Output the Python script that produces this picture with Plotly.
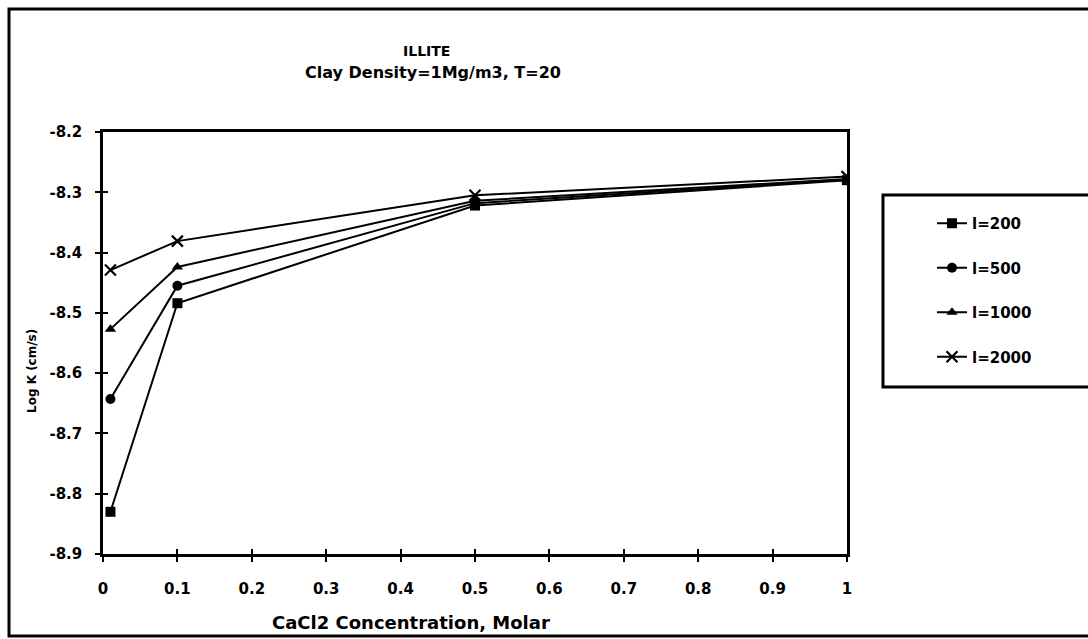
import plotly.graph_objects as go

# ---- data ----
concentration = [0.01, 0.1, 0.5, 1.0]
series_names = ["I=200", "I=500", "I=1000", "I=2000"]
legend_labels = ["l=200", "l=500", "l=1000", "l=2000"]
logk_200 = [-8.830, -8.484, -8.322, -8.280]
logk_500 = [-8.643, -8.455, -8.318, -8.279]
logk_1000 = [-8.527, -8.424, -8.314, -8.278]
logk_2000 = [-8.429, -8.381, -8.305, -8.274]
x_tickvals = [0, 0.1, 0.2, 0.3, 0.4, 0.5, 0.6, 0.7, 0.8, 0.9, 1.0]
x_ticktext = ["0", "0.1", "0.2", "0.3", "0.4", "0.5", "0.6", "0.7", "0.8", "0.9", "1"]
y_tickvals = [-8.9, -8.8, -8.7, -8.6, -8.5, -8.4, -8.3, -8.2]
y_ticktext = ["-8.9", "-8.8", "-8.7", "-8.6", "-8.5", "-8.4", "-8.3", "-8.2"]

title_line1 = "ILLITE"
title_line2 = "Clay Density=1Mg/m3, T=20"
x_title = "CaCl2 Concentration, Molar"
y_title = "Log K (cm/s)"

# ---- geometry (pixels) ----
W, H = 1088, 639
PL, PR, PT, PB = 103, 847, 132, 554

def px(xp):
    return (xp - PL) / (PR - PL)

def py(yp):
    return (PB - yp) / (PB - PT)

FONT = "DejaVu Sans"
fbold = dict(family=FONT, color="black", weight="bold")

symbols = ["square", "circle", "triangle-up", "x-thin-open"]
all_values = [logk_200, logk_500, logk_1000, logk_2000]

fig = go.Figure()
for name, lab, vals, sym in zip(series_names, legend_labels, all_values, symbols):
    marker = dict(symbol=sym, size=10, color="black")
    if sym == "x-thin-open":
        marker = dict(symbol=sym, size=11, color="black", line=dict(width=2.2, color="black"))
    fig.add_trace(go.Scatter(
        x=concentration, y=vals, mode="lines+markers", name=lab,
        legendgroup=name,
        line=dict(color="black", width=2),
        marker=marker,
    ))

axis_common = dict(
    showgrid=False, zeroline=False, showline=True, linecolor="black",
    linewidth=2.5, mirror=True, ticks="outside", ticklen=5, tickwidth=1.5,
    tickcolor="black", tickfont=dict(size=15, **fbold),
)

fig.update_layout(
    width=W, height=H,
    margin=dict(l=PL, r=W - PR, t=PT, b=H - PB),
    paper_bgcolor="white", plot_bgcolor="white",
    xaxis=dict(range=[0, 1], tickvals=x_tickvals, ticktext=x_ticktext,
               ticklabelstandoff=14, **axis_common),
    yaxis=dict(range=[-8.9, -8.2], tickvals=y_tickvals, ticktext=y_ticktext,
               ticklabelstandoff=10, **axis_common),
    xaxis2=dict(overlaying="x", anchor="y", side="bottom", range=[0, 1],
                tickvals=x_tickvals, showticklabels=False, ticks="inside",
                ticklen=5, tickwidth=1.5, tickcolor="black", showgrid=False,
                zeroline=False, showline=False),
    yaxis2=dict(overlaying="y", anchor="x", side="left", range=[-8.9, -8.2],
                tickvals=y_tickvals, showticklabels=False, ticks="inside",
                ticklen=5, tickwidth=1.5, tickcolor="black", showgrid=False,
                zeroline=False, showline=False),
    showlegend=True,
    legend=dict(
        xref="container", yref="container",
        x=932 / W, y=1 - 207 / H, xanchor="left", yanchor="top",
        bgcolor="rgba(0,0,0,0)", borderwidth=0,
        font=dict(size=15, **fbold),
        tracegroupgap=22, itemwidth=30,
    ),
)

# dummy trace so overlay axes render
fig.add_trace(go.Scatter(x=[None], y=[None], xaxis="x2", yaxis="y2",
                         showlegend=False, hoverinfo="skip"))

# outer frame
fig.add_shape(type="rect", xref="paper", yref="paper",
              x0=px(9), x1=px(1110), y0=py(636), y1=py(9),
              line=dict(color="black", width=3), layer="below")
# legend frame
fig.add_shape(type="rect", xref="paper", yref="paper",
              x0=px(883), x1=px(1110), y0=py(387), y1=py(195),
              line=dict(color="black", width=3), layer="below")

# titles
fig.add_annotation(text=title_line1, xref="paper", yref="paper",
                   x=px(426), y=py(51), showarrow=False,
                   font=dict(size=14, **fbold), xanchor="center", yanchor="middle")
fig.add_annotation(text=title_line2, xref="paper", yref="paper",
                   x=px(433), y=py(73), showarrow=False,
                   font=dict(size=16, **fbold), xanchor="center", yanchor="middle")
fig.add_annotation(text=x_title, xref="paper", yref="paper",
                   x=px(411), y=py(622), showarrow=False,
                   font=dict(size=18, **fbold), xanchor="center", yanchor="middle")
fig.add_annotation(text=y_title, xref="paper", yref="paper",
                   x=px(32), y=py(371), showarrow=False, textangle=-90,
                   font=dict(size=12, **fbold), xanchor="center", yanchor="middle")

fig.write_html("out.html")
